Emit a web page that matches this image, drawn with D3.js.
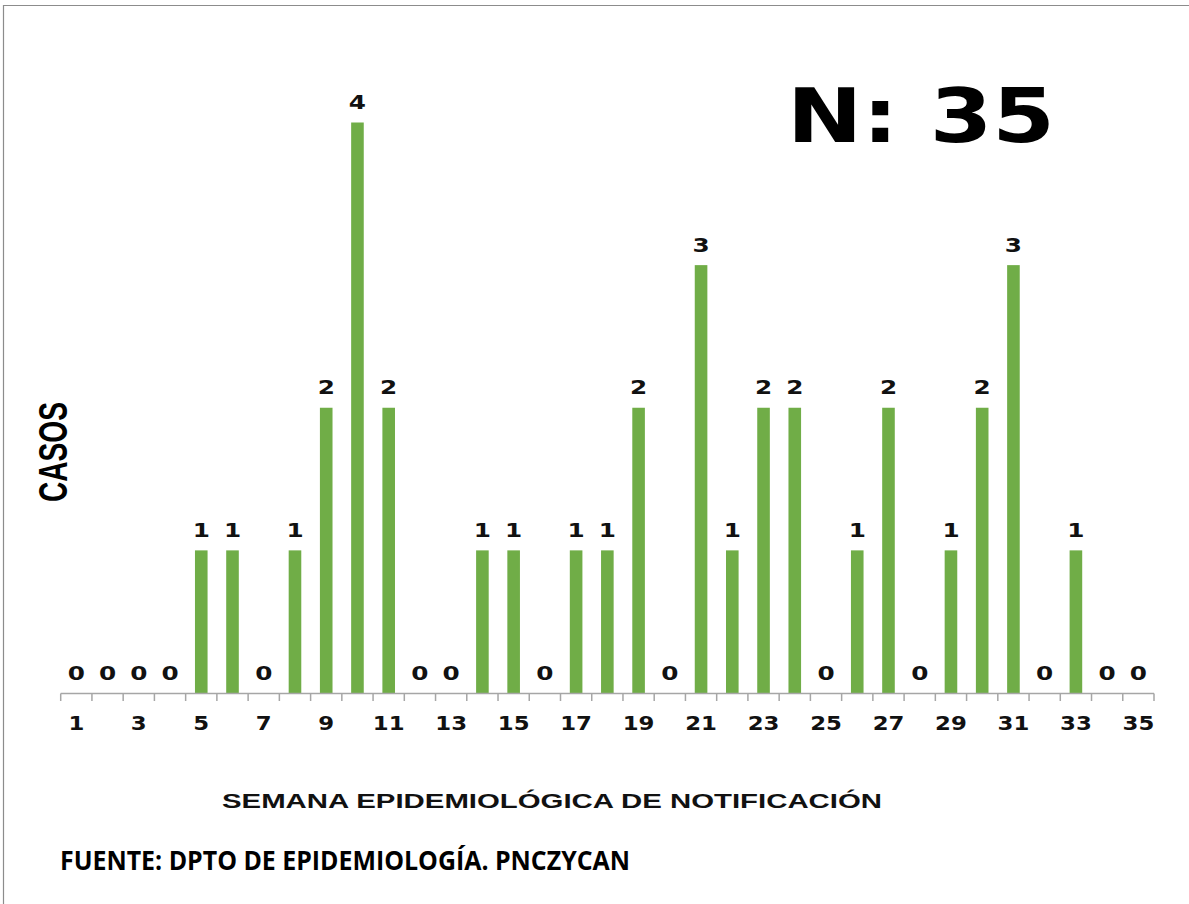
<!DOCTYPE html>
<html><head><meta charset="utf-8">
<script src="https://cdn.jsdelivr.net/npm/d3@7"></script>
<style>body{margin:0;background:#fff}svg{display:block}</style>
</head><body>
<svg id="c" width="1189" height="904"></svg>
<script>
const weeks = d3.range(1, 36);
const cases = [0,0,0,0,1,1,0,1,2,4,2,0,0,1,1,0,1,1,2,0,3,1,2,2,0,1,2,0,1,2,3,0,1,0,0];
const tickLabels = weeks.filter(w => w % 2 === 1);
const title = "N: 35";
const yTitle = "CASOS";
const xTitle = "SEMANA EPIDEMIOLÓGICA  DE NOTIFICACIÓN";
const source = "FUENTE: DPTO DE EPIDEMIOLOGÍA. PNCZYCAN";

const svg = d3.select("#c");
svg.append("path").attr("d", "M3.5,904 V5.5 H1189").attr("fill","none").attr("stroke","#8c8c8c").attr("stroke-width",1.2);

const x = d3.scaleBand().domain(weeks).range([60.7, 1154]).paddingInner(0).paddingOuter(0);
const y = d3.scaleLinear().domain([0, 4]).range([693, 122.5]);
const barW = 12.6;
const font = "DejaVu Sans, Verdana, sans-serif";

const g = svg.append("g");
g.selectAll("rect.bar").data(weeks).join("rect")
  .attr("x", d => x(d) + x.bandwidth()/2 - barW/2)
  .attr("width", barW)
  .attr("y", (d,i) => y(cases[i]))
  .attr("height", (d,i) => y(0) - y(cases[i]))
  .attr("fill", "#70AD47");

g.selectAll("g.val").data(weeks).join("g")
  .attr("transform", (d,i) => `translate(${x(d) + x.bandwidth()/2},${y(cases[i]) - 13.5}) scale(1.3,1)`)
  .append("text")
  .attr("text-anchor","middle")
  .attr("font-family",font)
  .attr("font-weight","bold").attr("font-size","19px").attr("fill","#111")
  .text((d,i) => cases[i]);

// axis
const axisG = svg.append("g");
axisG.append("line").attr("x1", 60.7).attr("x2", 1154).attr("y1", 693.5).attr("y2", 693.5).attr("stroke","#a6a6a6").attr("stroke-width",1.5);
const tickPos = weeks.map(w => x(w)).concat([x.range()[1]]);
axisG.selectAll("line.t").data(tickPos).join("line")
  .attr("x1", d => d).attr("x2", d => d).attr("y1", 693.5).attr("y2", 701)
  .attr("stroke","#a6a6a6").attr("stroke-width",1.5);
axisG.selectAll("g.tl").data(tickLabels).join("g")
  .attr("transform", d => `translate(${x(d) + x.bandwidth()/2},730) scale(1.2,1)`)
  .append("text")
  .attr("text-anchor","middle")
  .attr("font-family",font)
  .attr("font-weight","bold").attr("font-size","19px").attr("fill","#111")
  .text(d => d);

svg.append("text").attr("x", 787).attr("y", 142)
  .attr("font-family",font).attr("font-weight","bold")
  .attr("font-size","74px").attr("fill","#000")
  .attr("textLength", 268).attr("lengthAdjust","spacingAndGlyphs").text(title);

svg.append("text").attr("transform","translate(67,452) rotate(-90)")
  .attr("text-anchor","middle")
  .attr("font-family","Liberation Sans, Arial, sans-serif").attr("font-weight","bold")
  .attr("font-size","41px").attr("fill","#000")
  .attr("textLength", 100).attr("lengthAdjust","spacingAndGlyphs").text(yTitle);

svg.append("text").attr("x", 222).attr("y", 808)
  .attr("font-family","Liberation Sans, Arial, sans-serif").attr("font-weight","bold")
  .attr("font-size","20px").attr("fill","#111")
  .attr("textLength", 660).attr("lengthAdjust","spacingAndGlyphs").text(xTitle);

svg.append("text").attr("x", 60).attr("y", 870)
  .attr("font-family","Open Sans, Noto Sans, sans-serif").attr("font-weight","bold")
  .attr("font-size","26px").attr("fill","#000")
  .attr("textLength", 570).attr("lengthAdjust","spacingAndGlyphs").text(source);
</script>
</body></html>
